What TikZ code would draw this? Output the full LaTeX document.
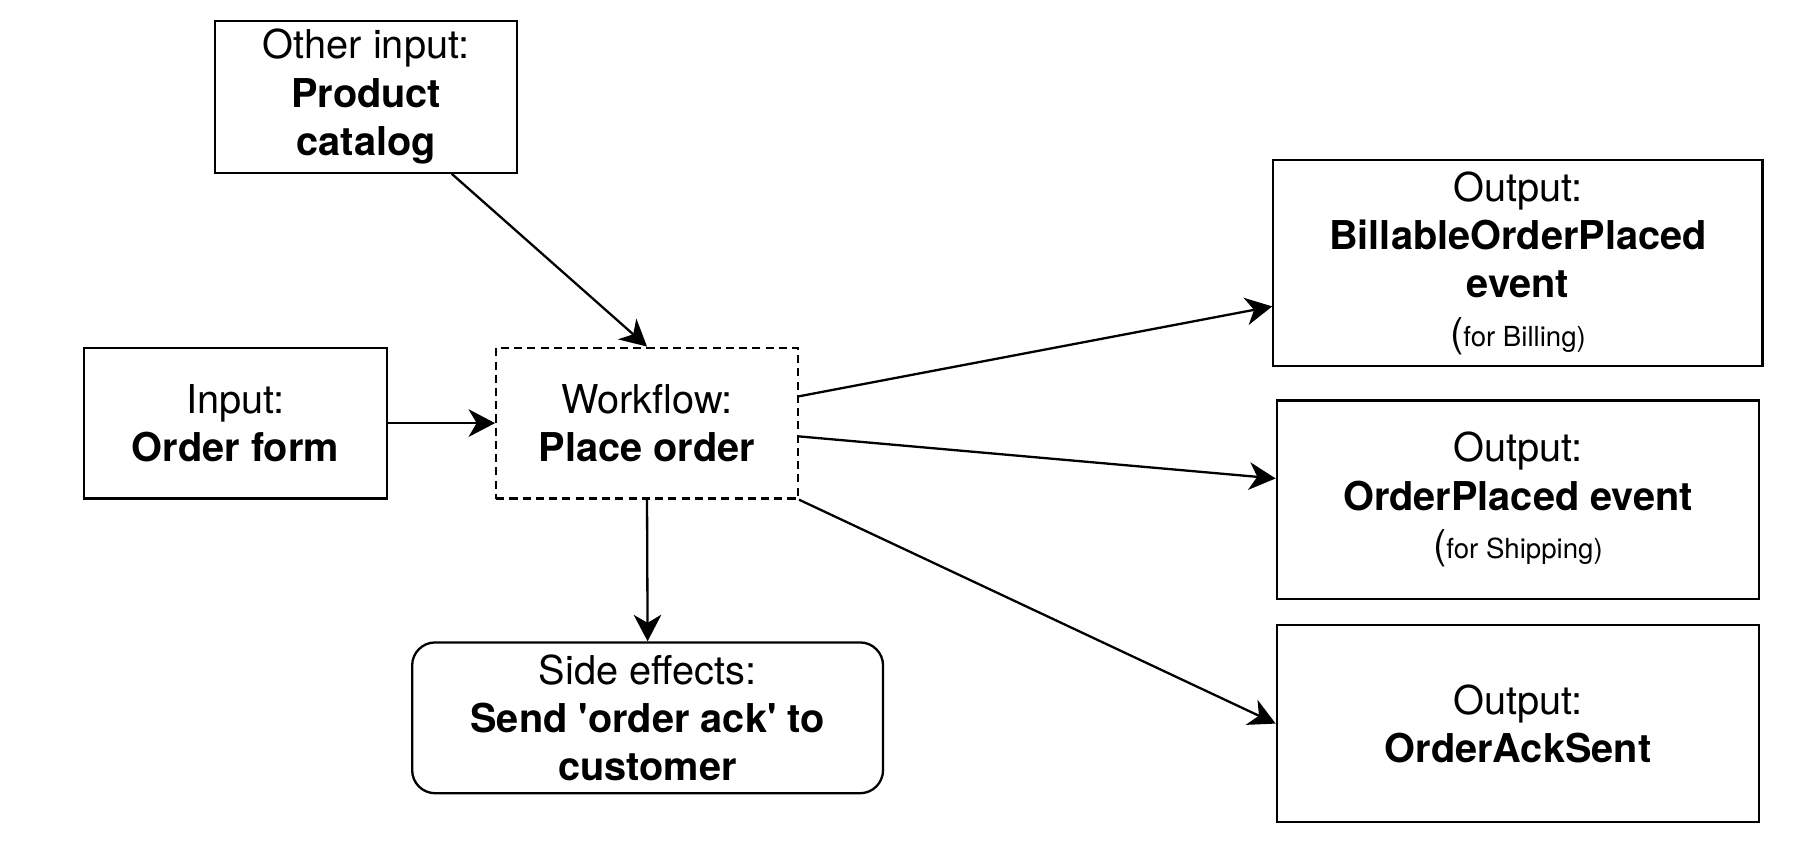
\documentclass[tikz,border=0pt]{standalone}
\usepackage{fontspec}
\setmainfont{TeX Gyre Heros}
\usepackage{xcolor}
\usepackage{tikz}
\usetikzlibrary{arrows.meta}
\definecolor{bg}{HTML}{FFFFFF}
\definecolor{ink}{HTML}{000000}
\tikzset{
  box/.style={
    draw=ink,
    line width=2pt,
    fill=bg,
    text=ink,
    align=center,
    inner sep=0pt,
    font=\fontsize{34.5}{42}\selectfont
  },
  flow/.style={box, dash pattern=on 7pt off 4.5pt},
  effect/.style={box, rounded corners=20pt},
  link/.style={draw=ink, line width=2pt, -{Stealth[length=23pt,width=24pt,inset=7pt]}}
}
\newcommand{\smalltxt}[1]{{\fontsize{24}{42}\selectfont #1}}

\begin{document}
\begin{tikzpicture}[x=1pt, y=-1pt]
  \fill[bg] (0,0) rectangle (1560,733);
  \useasboundingbox (0,0) rectangle (1560,733);

  % inputs and the workflow
  \node[box, minimum width=262pt, minimum height=132pt] (catalog) at (318,84)
    {Other input:\\\textbf{Product}\\\textbf{catalog}};
  \node[box, minimum width=263pt, minimum height=131pt] (orderform) at (204.5,367.5)
    {Input:\\\textbf{Order form}};
  \node[flow, minimum width=262pt, minimum height=131pt] (workflow) at (562,367.5)
    {Workflow:\\\textbf{Place order}};
  \node[effect, minimum width=409pt, minimum height=131pt] (sidefx) at (562.5,623.5)
    {Side effects:\\\textbf{Send \textquotesingle order ack\textquotesingle{} to}\\\textbf{customer}};

  % outputs
  \node[box, minimum width=425pt, minimum height=179pt] (billable) at (1318.5,228.5)
    {Output:\\\textbf{BillableOrderPlaced}\\\textbf{event}\\(\smalltxt{for Billing)}};
  \node[box, minimum width=419pt, minimum height=172pt] (placed) at (1318.5,434)
    {Output:\\\textbf{OrderPlaced event}\\(\smalltxt{for Shipping)}};
  \node[box, minimum width=419pt, minimum height=171pt] (acksent) at (1318.5,628.5)
    {Output:\\\textbf{OrderAckSent}};

  \draw[link] (catalog.-42) -- (workflow.north);
  \draw[link] (orderform.east) -- (workflow.west);
  \draw[link] (workflow.south) -- (sidefx.north);
  \draw[link] (workflow.10.6) -- (billable.190);
  \draw[link] (workflow.-5.5) -- (placed.175);
  \draw[link] (workflow.south east) -- (acksent.west);
\end{tikzpicture}
\end{document}
